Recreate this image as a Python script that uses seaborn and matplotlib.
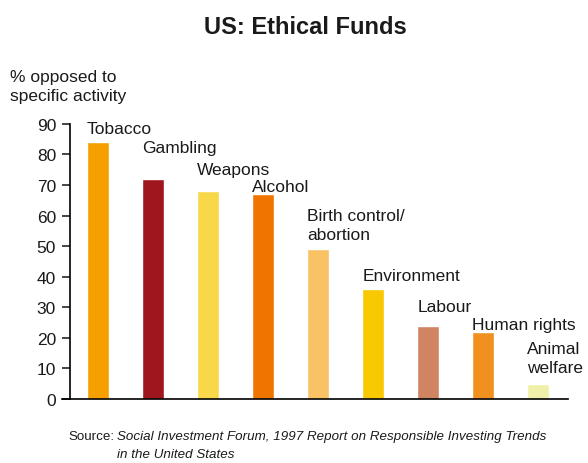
import matplotlib
matplotlib.use('Agg')
import pandas as pd
import matplotlib.pyplot as plt
import seaborn as sns

categories = ['Tobacco', 'Gambling', 'Weapons', 'Alcohol', 'Birth control/\nabortion',
              'Environment', 'Labour', 'Human rights', 'Animal\nwelfare']
opposed = [84, 72, 68, 67, 49, 36, 24, 22, 5]
colours = ['#F5A000', '#A0161E', '#F8D848', '#F07400', '#F8C265',
           '#F8C800', '#D08462', '#F0901E', '#F0F0A8']
yticks = [0, 10, 20, 30, 40, 50, 60, 70, 80, 90]
# baseline height of each bar's label (in % units), they step down like stairs
label_y = [87.0, 80.7, 73.6, 68.0, 52.4, 39.0, 28.8, 22.9, 8.9]

sns.set_style('white')
plt.rcParams['font.family'] = ['Liberation Sans', 'DejaVu Sans']

df = pd.DataFrame({'cat': categories, 'val': opposed})

fig = plt.figure(figsize=(5.88, 4.64), dpi=100)
ax = fig.add_axes([0.119, 0.138, 0.847, 0.593])

sns.barplot(data=df, x='cat', y='val', hue='cat', palette=dict(zip(categories, colours)),
            legend=False, width=0.4, dodge=False, saturation=1, ax=ax)

for i, (c, ly) in enumerate(zip(categories, label_y)):
    ax.text(i - 0.2, ly, c, ha='left', va='baseline', fontsize=12.5, linespacing=1.3,
            color='#1a1a1a')

ax.set_xlim(-0.51, 8.54)
ax.set_ylim(0, 90)
ax.set_yticks(yticks)
ax.tick_params(axis='y', labelsize=12.5, length=6, width=1.2, direction='out', left=True,
               pad=4, labelcolor='#1a1a1a')
ax.set_xticks([])
ax.set_xlabel('')
ax.set_ylabel('')
sns.despine(ax=ax, top=True, right=True)
for s in ['left', 'bottom']:
    ax.spines[s].set_color('black')
    ax.spines[s].set_linewidth(1.2)
ax.spines['bottom'].set_bounds(-0.66, 8.54)

fig.text(0.52, 0.94, 'US: Ethical Funds', ha='center', va='center', fontsize=17,
         fontweight='bold', color='#1a1a1a')
fig.text(0.017, 0.813, '% opposed to\nspecific activity', ha='left', va='center',
         fontsize=12.5, linespacing=1.3, color='#1a1a1a')
fig.text(0.116, 0.058, 'Source:', ha='left', va='center', fontsize=9.6, color='#1a1a1a')
fig.text(0.199, 0.058, 'Social Investment Forum, 1997 Report on Responsible Investing Trends',
         ha='left', va='center', fontsize=9.6, style='italic', color='#1a1a1a')
fig.text(0.199, 0.019, 'in the United States', ha='left', va='center', fontsize=9.6,
         style='italic', color='#1a1a1a')

fig.savefig('out.png', dpi=100)
